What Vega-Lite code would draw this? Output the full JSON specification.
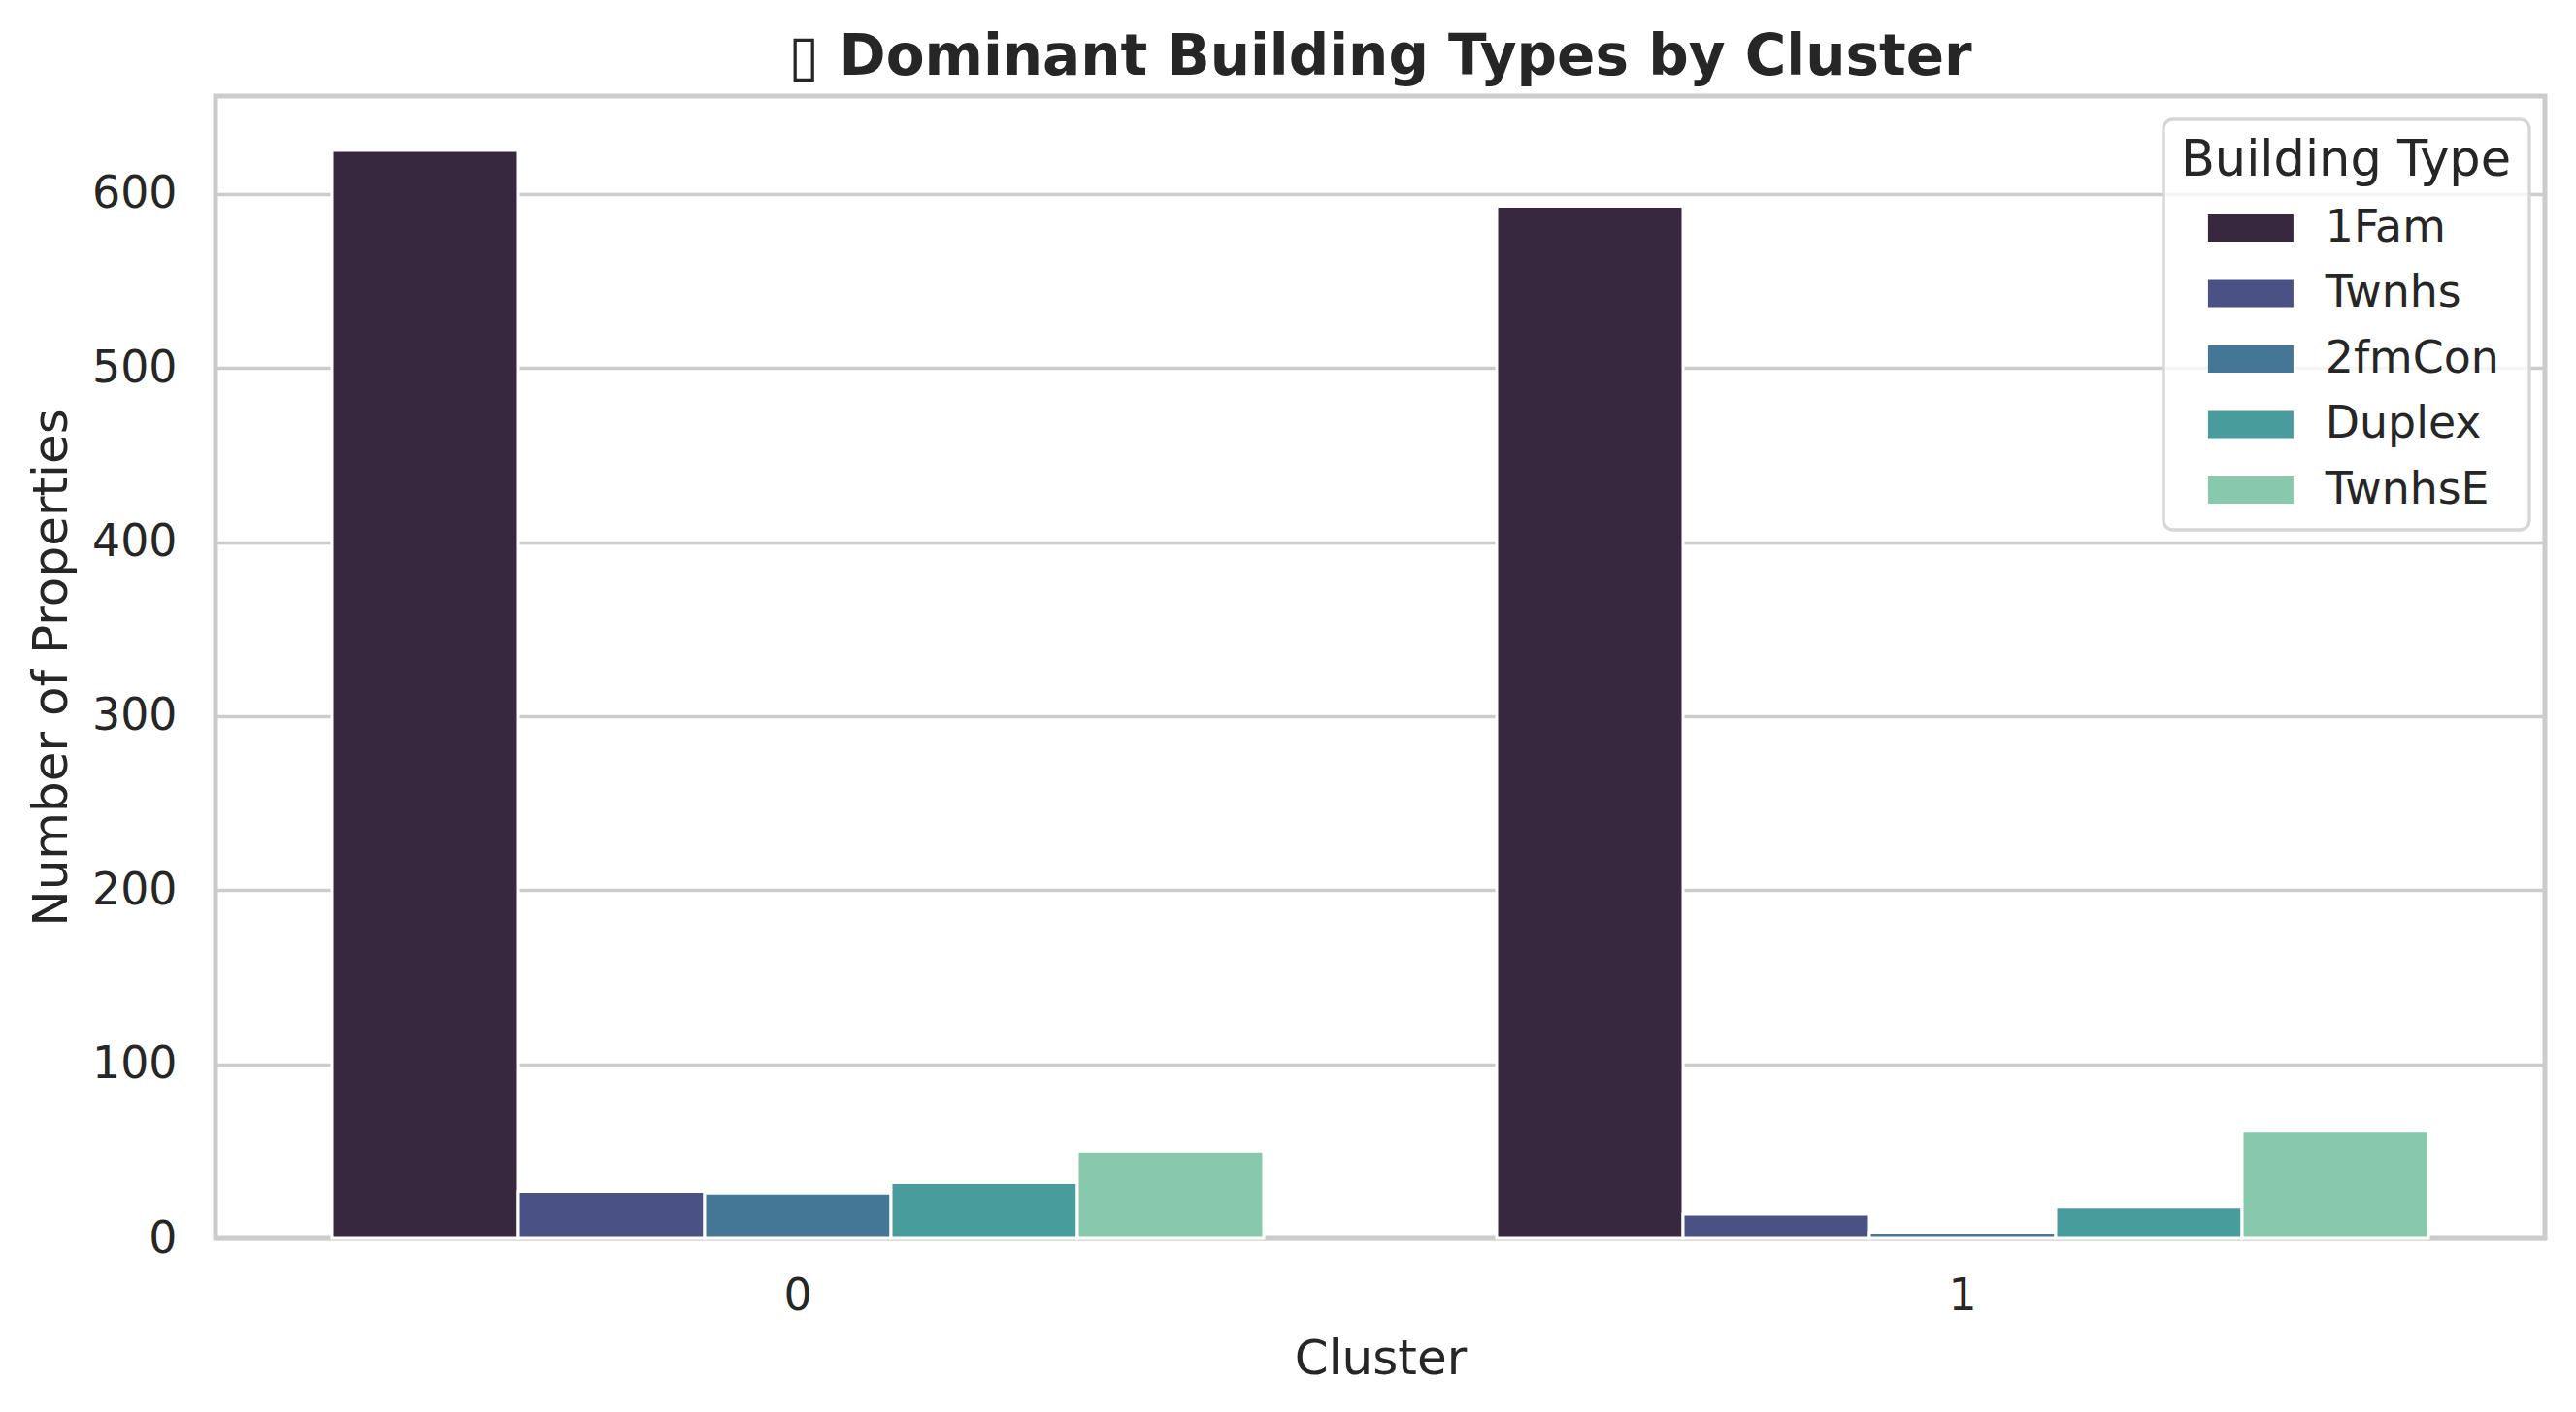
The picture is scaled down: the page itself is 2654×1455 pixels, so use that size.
{
  "$schema": "https://vega.github.io/schema/vega-lite/v6.json",
  "width": 2400,
  "height": 1177,
  "autosize": {"type": "none"},
  "padding": {"left": 222, "top": 99, "right": 32, "bottom": 179},
  "background": "white",
  "title": {
    "text": "▯ Dominant Building Types by Cluster",
    "fontSize": 58,
    "fontWeight": "bold",
    "font": "DejaVu Sans",
    "color": "#262626",
    "anchor": "middle",
    "offset": 10
  },
  "data": {
    "values": [
      {"Cluster": "0", "BldgType": "1Fam", "Count": 625},
      {"Cluster": "0", "BldgType": "Twnhs", "Count": 27},
      {"Cluster": "0", "BldgType": "2fmCon", "Count": 26},
      {"Cluster": "0", "BldgType": "Duplex", "Count": 32},
      {"Cluster": "0", "BldgType": "TwnhsE", "Count": 50},
      {"Cluster": "1", "BldgType": "1Fam", "Count": 593},
      {"Cluster": "1", "BldgType": "Twnhs", "Count": 14},
      {"Cluster": "1", "BldgType": "2fmCon", "Count": 3},
      {"Cluster": "1", "BldgType": "Duplex", "Count": 18},
      {"Cluster": "1", "BldgType": "TwnhsE", "Count": 62}
    ]
  },
  "mark": {"type": "bar", "stroke": "white", "strokeWidth": 3},
  "encoding": {
    "x": {
      "field": "Cluster",
      "type": "nominal",
      "scale": {"paddingInner": 0.2, "paddingOuter": 0.1},
      "axis": {
        "title": "Cluster",
        "labelAngle": 0,
        "grid": false,
        "domain": false,
        "ticks": false,
        "labelPadding": 37,
        "titlePadding": 18,
        "labelFontSize": 45.8,
        "titleFontSize": 50
      }
    },
    "xOffset": {
      "field": "BldgType",
      "type": "nominal",
      "sort": ["1Fam", "Twnhs", "2fmCon", "Duplex", "TwnhsE"],
      "scale": {"paddingInner": 0, "paddingOuter": 0}
    },
    "y": {
      "field": "Count",
      "type": "quantitative",
      "scale": {"domain": [0, 656.25], "nice": false, "zero": true},
      "axis": {
        "title": "Number of Properties",
        "values": [0, 100, 200, 300, 400, 500, 600],
        "domain": false,
        "ticks": false,
        "gridColor": "#cccccc",
        "gridWidth": 3.3,
        "labelPadding": 40,
        "titlePadding": 16,
        "labelFontSize": 45.8,
        "titleFontSize": 50
      }
    },
    "color": {
      "field": "BldgType",
      "type": "nominal",
      "scale": {
        "domain": ["1Fam", "Twnhs", "2fmCon", "Duplex", "TwnhsE"],
        "range": ["#372840", "#4a5285", "#447795", "#489c9c", "#88c9ad"]
      },
      "legend": {
        "title": "Building Type",
        "orient": "none",
        "legendX": 2007,
        "legendY": 24,
        "padding": 18,
        "fillColor": "rgba(255,255,255,0.8)",
        "strokeColor": "#d6d6d6",
        "cornerRadius": 10,
        "titleFontSize": 51,
        "titleFontWeight": "normal",
        "titleColor": "#262626",
        "titleAnchor": "middle",
        "titlePadding": 20,
        "titleLimit": 0,
        "labelFontSize": 45.8,
        "labelColor": "#262626",
        "labelLimit": 0,
        "symbolType": "M-2,-0.636H2V0.636H-2Z",
        "symbolSize": 1936,
        "symbolStrokeWidth": 0,
        "symbolOffset": 36,
        "labelOffset": 54,
        "rowPadding": 20.5
      }
    }
  },
  "config": {
    "view": {"stroke": "#cccccc", "strokeWidth": 5},
    "font": "DejaVu Sans",
    "axis": {"labelColor": "#262626", "titleColor": "#262626", "titleFontWeight": "normal"},
    "legend": {"strokeWidth": 3.3}
  }
}
